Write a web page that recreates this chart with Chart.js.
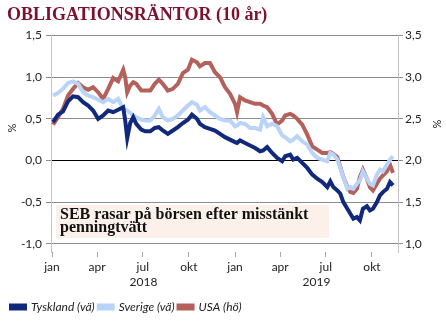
<!DOCTYPE html>
<html>
<head>
<meta charset="utf-8">
<script src="https://cdn.jsdelivr.net/npm/chart.js@4"></script>
<style>
  html, body { margin: 0; padding: 0; background: #fff; }
  #wrap { width: 446px; height: 327px; }
</style>
</head>
<body>
<div id="wrap"><canvas id="c"></canvas></div>
<script>
// dagar sedan 2018-01-01
const dag = [2, 12, 22, 32, 42, 52, 62, 72, 82, 92, 102, 112, 122, 132, 142, 146, 150, 156, 162, 168,
    178, 186, 196, 205, 213, 221, 231, 241, 251, 261, 271, 279, 289, 295, 305, 315, 325, 335, 345, 355,
    365, 369, 375, 385, 395, 405, 415, 421, 429, 439, 449, 459, 465, 475, 481, 489, 499, 509, 519, 529,
    539, 549, 555, 561, 569, 575, 581, 589, 595, 601, 608, 614, 620, 628, 634, 640, 648, 654, 660, 668,
    674, 680];

const tyskland = [0.46, 0.55, 0.59, 0.71, 0.77, 0.76, 0.70, 0.66, 0.60, 0.50, 0.54, 0.60, 0.58, 0.61, 0.64, 0.48, 0.27, 0.45, 0.52, 0.44,
    0.37, 0.35, 0.35, 0.39, 0.40, 0.36, 0.32, 0.36, 0.40, 0.45, 0.49, 0.55, 0.50, 0.44, 0.40, 0.38, 0.36, 0.32, 0.28, 0.25,
    0.22, 0.21, 0.24, 0.21, 0.18, 0.15, 0.11, 0.12, 0.16, 0.09, 0.03, -0.01, 0.05, 0.07, 0.01, 0.03, -0.03, -0.09, -0.17, -0.22,
    -0.26, -0.32, -0.25, -0.32, -0.36, -0.40, -0.50, -0.58, -0.64, -0.70, -0.68, -0.72, -0.58, -0.55, -0.60, -0.58, -0.50, -0.42, -0.38, -0.34,
    -0.26, -0.30];

const sverige = [0.78, 0.81, 0.86, 0.93, 0.95, 0.92, 0.82, 0.78, 0.76, 0.73, 0.70, 0.74, 0.70, 0.74, 0.62, 0.61, 0.60, 0.57, 0.54, 0.52,
    0.49, 0.48, 0.48, 0.54, 0.62, 0.52, 0.48, 0.50, 0.54, 0.60, 0.66, 0.70, 0.67, 0.60, 0.64, 0.58, 0.54, 0.50, 0.48, 0.48,
    0.41, 0.42, 0.45, 0.44, 0.39, 0.39, 0.37, 0.52, 0.41, 0.44, 0.41, 0.30, 0.28, 0.23, 0.25, 0.29, 0.23, 0.19, 0.09, 0.03,
    0.01, -0.01, 0.09, 0.07, 0.01, -0.09, -0.20, -0.34, -0.32, -0.34, -0.28, -0.24, -0.13, -0.22, -0.28, -0.30, -0.17, -0.11, -0.13, -0.05,
    0.01, 0.05];

const usa = [2.43, 2.52, 2.62, 2.78, 2.86, 2.93, 2.88, 2.85, 2.88, 2.82, 2.74, 2.86, 2.99, 2.95, 3.09, 3.00, 2.82, 2.90, 2.94, 2.92,
    2.84, 2.84, 2.84, 2.92, 2.97, 2.92, 2.84, 2.86, 2.92, 3.05, 3.09, 3.21, 3.18, 3.13, 3.17, 3.17, 3.06, 3.00, 2.88, 2.80,
    2.68, 2.58, 2.76, 2.72, 2.70, 2.68, 2.68, 2.66, 2.64, 2.56, 2.43, 2.48, 2.54, 2.56, 2.54, 2.50, 2.43, 2.31, 2.17, 2.13,
    2.09, 2.09, 2.10, 2.08, 2.04, 1.92, 1.80, 1.68, 1.62, 1.61, 1.66, 1.80, 1.89, 1.78, 1.68, 1.64, 1.72, 1.78, 1.82, 1.87,
    1.95, 1.85];

const manadTicks = [0, 90, 181, 273, 365, 455, 546, 638];
const manadEtiketter = ['jan', 'apr', 'jul', 'okt', 'jan', 'apr', 'jul', 'okt'];
const arEtiketter = ['2018', '2019'];
const vansterTicks = [-1.0, -0.5, 0.0, 0.5, 1.0, 1.5];
const hogerTicks = [1.0, 1.5, 2.0, 2.5, 3.0, 3.5];
const rubrik = 'OBLIGATIONSRÄNTOR (10 år)';
const nyhet = ['SEB rasar på börsen efter misstänkt', 'penningtvätt'];

const fmt = v => v.toFixed(1).replace('.', ',');
const pts = arr => dag.map((d, i) => ({ x: d, y: arr[i] }));

const extraText = {
    id: 'extraText',
    beforeDatasetsDraw(chart) {
        const ctx = chart.ctx;
        const a = chart.chartArea;
        // nyhetsruta
        ctx.save();
        ctx.fillStyle = '#fbf1ea';
        ctx.fillRect(a.left + 5, 205, 273, 33);
        ctx.fillStyle = '#111';
        ctx.font = 'bold 16px "Liberation Serif"';
        ctx.textBaseline = 'alphabetic';
        ctx.fillText(nyhet[0], a.left + 9, 219);
        ctx.fillText(nyhet[1], a.left + 9, 232);
        ctx.restore();
    },
    afterDraw(chart) {
        const ctx = chart.ctx;
        const x = chart.scales.x;
        ctx.save();
        ctx.fillStyle = '#222';
        ctx.font = '12px Lato';
        ctx.textAlign = 'center';
        ctx.textBaseline = 'middle';
        ctx.fillText(arEtiketter[0], x.getPixelForValue(182.5), 282);
        ctx.fillText(arEtiketter[1], x.getPixelForValue((365 + x.max) / 2), 282);
        ctx.font = '11px Lato';
        ctx.translate(12, 128);
        ctx.rotate(-Math.PI / 2);
        ctx.fillText('%', 0, 0);
        ctx.restore();
        ctx.save();
        ctx.fillStyle = '#222';
        ctx.font = '11px Lato';
        ctx.textAlign = 'center';
        ctx.textBaseline = 'middle';
        ctx.translate(437, 124);
        ctx.rotate(-Math.PI / 2);
        ctx.fillText('%', 0, 0);
        ctx.restore();
    }
};

new Chart(document.getElementById('c'), {
    type: 'line',
    data: {
        datasets: [
            {
                label: 'Tyskland (vä)',
                data: pts(tyskland),
                borderColor: '#10297c',
                backgroundColor: '#10297c',
                borderWidth: 4,
                pointRadius: 0,
                tension: 0,
                yAxisID: 'y'
            },
            {
                label: 'Sverige (vä)',
                data: pts(sverige),
                borderColor: '#b9d4f8',
                backgroundColor: '#b9d4f8',
                borderWidth: 4,
                pointRadius: 0,
                tension: 0,
                yAxisID: 'y'
            },
            {
                label: 'USA (hö)',
                data: pts(usa),
                borderColor: '#b5615b',
                backgroundColor: '#b5615b',
                borderWidth: 4,
                pointRadius: 0,
                tension: 0,
                yAxisID: 'y1'
            }
        ]
    },
    options: {
        responsive: true,
        maintainAspectRatio: false,
        animation: false,
        layout: { padding: { left: 7, right: 0, top: 0, bottom: 4 } },
        plugins: {
            title: {
                display: true,
                text: rubrik,
                align: 'start',
                color: '#7d1230',
                font: { family: 'Liberation Serif', size: 18, weight: 'bold' },
                padding: { top: 5, bottom: 9 }
            },
            legend: {
                position: 'bottom',
                align: 'start',
                labels: {
                    boxWidth: 14,
                    boxHeight: 3,
                    padding: 4,
                    color: '#222',
                    font: { family: 'Lato', size: 12, style: 'italic' }
                }
            },
            tooltip: { enabled: false }
        },
        scales: {
            x: {
                type: 'linear',
                min: -2,
                max: 690,
                border: { display: false },
                grid: { drawOnChartArea: false, tickLength: 5, color: '#a6a6a6' },
                afterBuildTicks: s => { s.ticks = manadTicks.map(v => ({ value: v })); },
                afterFit: s => { s.height = 45; },
                ticks: {
                    autoSkip: false,
                    maxRotation: 0,
                    padding: 3,
                    color: '#222',
                    font: { family: 'Lato', size: 12 },
                    callback: (v, i) => manadEtiketter[i]
                }
            },
            y: {
                position: 'left',
                min: -1.1,
                max: 1.5,
                border: { color: '#c4c4c4' },
                grid: {
                    color: c => (c.tick && c.tick.value === 0) ? '#000' : '#8c8c8c',
                    tickColor: '#8c8c8c',
                    tickLength: 5
                },
                afterBuildTicks: s => { s.ticks = vansterTicks.map(v => ({ value: v })); },
                afterFit: s => { s.width = 44; },
                ticks: {
                    padding: 4,
                    color: '#222',
                    font: { family: 'Lato', size: 12 },
                    callback: v => fmt(v)
                }
            },
            y1: {
                position: 'right',
                min: 0.9,
                max: 3.5,
                border: { color: '#c4c4c4' },
                grid: { drawOnChartArea: false, tickLength: 5, color: '#8c8c8c' },
                afterBuildTicks: s => { s.ticks = hogerTicks.map(v => ({ value: v })); },
                afterFit: s => { s.width = 48; },
                ticks: {
                    padding: 2,
                    color: '#222',
                    font: { family: 'Lato', size: 12 },
                    callback: v => fmt(v)
                }
            }
        }
    },
    plugins: [extraText]
});
</script>
</body>
</html>
